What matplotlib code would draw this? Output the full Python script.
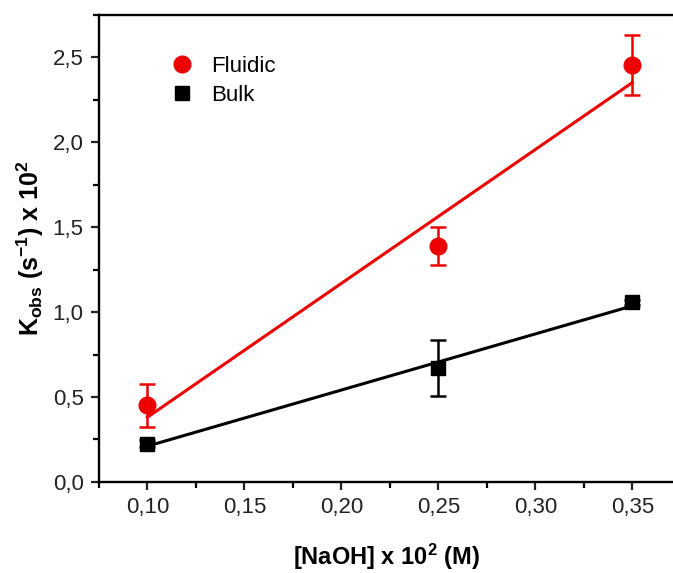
import numpy as np
import matplotlib
matplotlib.use('Agg')
import matplotlib.pyplot as plt
from matplotlib.ticker import FuncFormatter, MultipleLocator

plt.rcParams['font.family'] = ['Liberation Sans', 'DejaVu Sans']
plt.rcParams['mathtext.fontset'] = 'custom'
plt.rcParams['mathtext.bf'] = 'Liberation Sans:bold'
plt.rcParams['mathtext.rm'] = 'Liberation Sans:bold'
plt.rcParams['mathtext.it'] = 'Liberation Sans:bold'

naoh = [0.10, 0.25, 0.35]
fluidic = [0.45, 1.39, 2.455]
fluidic_err = [0.125, 0.11, 0.176]
bulk = [0.225, 0.67, 1.058]
bulk_err = [0.02, 0.165, 0.015]


def comma(fmt):
    return FuncFormatter(lambda v, pos: (fmt % v).replace('.', ','))


fig = plt.figure(figsize=(6.73, 5.73), dpi=100)
ax = fig.add_axes([0.147, 0.159, 0.853, 0.815])

x_line = np.array([min(naoh), max(naoh)])
handles = []
for y, err, col, mk, ms, lab in [(fluidic, fluidic_err, '#ee0000', 'o', 12, 'Fluidic'),
                                 (bulk, bulk_err, 'black', 's', 9.5, 'Bulk')]:
    k, b = np.polyfit(naoh, y, 1)
    ax.plot(x_line, k * x_line + b, color=col, lw=2.2, zorder=2)
    ax.errorbar(naoh, y, yerr=err, fmt='none', ecolor=col, capsize=5.5,
                elinewidth=1.8, capthick=1.8, zorder=3)
    h, = ax.plot(naoh, y, mk, color=col, ms=ms, ls='none', zorder=4, label=lab)
    handles.append(h)

ax.set_xlim(0.075, 0.371)
ax.set_ylim(0.0, 2.75)
ax.xaxis.set_major_locator(MultipleLocator(0.05))
ax.xaxis.set_minor_locator(MultipleLocator(0.025))
ax.yaxis.set_major_locator(MultipleLocator(0.5))
ax.yaxis.set_minor_locator(MultipleLocator(0.25))
ax.xaxis.set_major_formatter(comma('%.2f'))
ax.yaxis.set_major_formatter(comma('%.1f'))

for s in ['left', 'bottom', 'top']:
    ax.spines[s].set_linewidth(1.7)
ax.spines['right'].set_visible(False)
ax.tick_params(which='major', direction='out', length=6, width=1.6,
               labelsize=16, colors='#222222', pad=5)
ax.tick_params(which='minor', direction='out', length=4, width=1.6)
ax.tick_params(axis='x', which='both', top=False)

ax.set_xlabel('[NaOH] x 10$^{2}$ (M)', fontsize=17, fontweight='bold', labelpad=17)
ax.set_ylabel('K$_{obs}$ (s$^{-1}$) x 10$^{2}$', fontsize=18,
              fontweight='bold', labelpad=5)

ax.legend(handles=handles, loc='upper left', bbox_to_anchor=(0.08, 0.955), frameon=False,
          fontsize=16, handletextpad=0.6, labelspacing=0.35, handlelength=1.5)

fig.savefig('out.png', dpi=100)
